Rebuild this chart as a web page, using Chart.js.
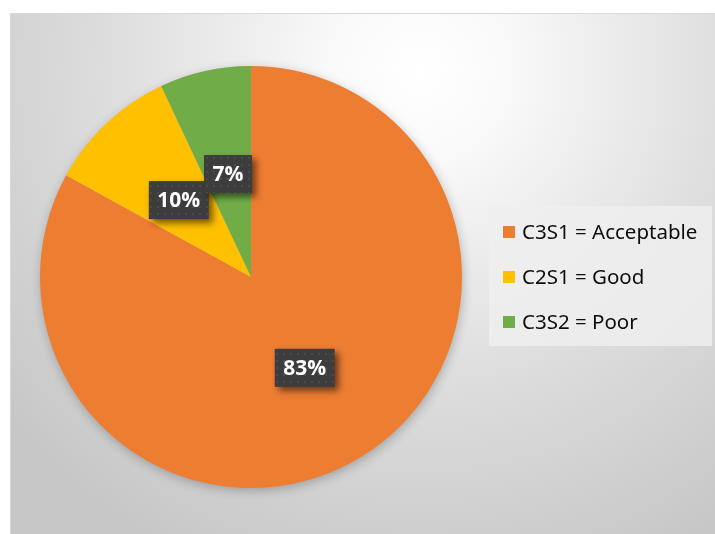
<!DOCTYPE html>
<html>
<head>
<meta charset="utf-8">
<script src="https://cdn.jsdelivr.net/npm/chart.js@4.4.1/dist/chart.umd.min.js"></script>
<style>
    html, body { margin: 0; padding: 0; background: #fff; overflow: hidden; }
    #wrap { width: 715px; height: 534px; position: relative; }
</style>
</head>
<body>
<div id="wrap"><canvas id="pieChart" width="715" height="534"></canvas></div>
<script>
// Chart data
const categories = ['C3S1 = Acceptable', 'C2S1 = Good', 'C3S2 = Poor'];
const shares = [83, 10, 7];
const sliceColors = ['#ED7D31', '#FFC000', '#70AD47'];

// Plot frame (the grey chart area starts a little inside the page)
const FRAME = { x: 10, y: 13 };

// Dotted dark fill used for the value labels
function makeLabelPattern(ctx) {
    const tile = document.createElement('canvas');
    tile.width = 7;
    tile.height = 7;
    const t = tile.getContext('2d');
    t.fillStyle = '#3d3d3d';
    t.fillRect(0, 0, 7, 7);
    t.fillStyle = '#4b4b4b';
    t.fillRect(3, 3, 2, 2);
    return ctx.createPattern(tile, 'repeat');
}

const backgroundPlugin = {
    id: 'frameBackground',
    beforeDraw(chart) {
        const ctx = chart.ctx;
        const w = chart.width, h = chart.height;
        ctx.save();
        ctx.fillStyle = '#ffffff';
        ctx.fillRect(0, 0, w, h);
        const g = ctx.createRadialGradient(420, 70, 0, 420, 70, 540);
        g.addColorStop(0, '#ffffff');
        g.addColorStop(0.15, '#fafafa');
        g.addColorStop(0.6, '#dcdcdc');
        g.addColorStop(1, '#c7c7c7');
        ctx.fillStyle = g;
        ctx.fillRect(FRAME.x, FRAME.y, w - FRAME.x, h - FRAME.y);
        ctx.strokeStyle = '#d9d9d9';
        ctx.lineWidth = 1;
        ctx.beginPath();
        ctx.moveTo(FRAME.x + 0.5, h);
        ctx.lineTo(FRAME.x + 0.5, FRAME.y + 0.5);
        ctx.lineTo(w, FRAME.y + 0.5);
        ctx.stroke();
        ctx.restore();
    },
    beforeDatasetsDraw(chart) {
        // soft shadow halo behind the pie
        const arc = chart.getDatasetMeta(0).data[0];
        if (!arc) return;
        const ctx = chart.ctx;
        ctx.save();
        ctx.shadowColor = 'rgba(0,0,0,0.28)';
        ctx.shadowBlur = 12;
        ctx.shadowOffsetX = 1;
        ctx.shadowOffsetY = 3;
        ctx.fillStyle = '#bbbbbb';
        ctx.beginPath();
        ctx.arc(arc.x, arc.y, arc.outerRadius - 1, 0, Math.PI * 2);
        ctx.fill();
        ctx.restore();
    }
};

const valueLabelPlugin = {
    id: 'valueLabels',
    afterDatasetsDraw(chart) {
        const ctx = chart.ctx;
        const meta = chart.getDatasetMeta(0);
        const pattern = makeLabelPattern(ctx);
        ctx.save();
        ctx.font = 'bold 21px "Open Sans", sans-serif';
        ctx.textAlign = 'center';
        ctx.textBaseline = 'middle';
        meta.data.forEach((arc, i) => {
            const pos = arc.tooltipPosition();
            const text = shares[i] + '%';
            const bw = ctx.measureText(text).width + 17;
            const bh = 38;
            const bx = pos.x - bw / 2;
            const by = pos.y - bh / 2;
            ctx.save();
            ctx.shadowColor = 'rgba(0,0,0,0.55)';
            ctx.shadowBlur = 7;
            ctx.shadowOffsetX = 4;
            ctx.shadowOffsetY = 4;
            ctx.fillStyle = pattern;
            ctx.fillRect(bx, by, bw, bh);
            ctx.restore();
            ctx.fillStyle = '#ffffff';
            ctx.fillText(text, pos.x, pos.y + 1);
        });
        ctx.restore();
    }
};

const legendPlugin = {
    id: 'sideLegend',
    afterDraw(chart) {
        const ctx = chart.ctx;
        const box = { x: 489, y: 206, w: 223, h: 140 };
        ctx.save();
        ctx.fillStyle = 'rgba(238,238,238,0.85)';
        ctx.fillRect(box.x, box.y, box.w, box.h);
        ctx.font = '20.5px "Noto Sans", sans-serif';
        ctx.textBaseline = 'middle';
        ctx.textAlign = 'left';
        chart.data.labels.forEach((label, i) => {
            const cy = box.y + 26 + i * 45;
            ctx.fillStyle = chart.data.datasets[0].backgroundColor[i];
            ctx.fillRect(box.x + 14, cy - 6, 12, 12);
            ctx.fillStyle = '#0d0d0d';
            ctx.fillText(label, box.x + 33, cy + 1);
        });
        ctx.restore();
    }
};

const pieChart = new Chart(document.getElementById('pieChart'), {
    type: 'pie',
    data: {
        labels: categories,
        datasets: [{
            data: shares,
            backgroundColor: sliceColors,
            borderWidth: 0
        }]
    },
    options: {
        responsive: false,
        animation: false,
        layout: {
            padding: { left: 40, top: 66, right: 253, bottom: 46 }
        },
        plugins: {
            legend: { display: false },
            tooltip: { enabled: false }
        }
    },
    plugins: [backgroundPlugin, valueLabelPlugin, legendPlugin]
});
</script>
</body>
</html>
